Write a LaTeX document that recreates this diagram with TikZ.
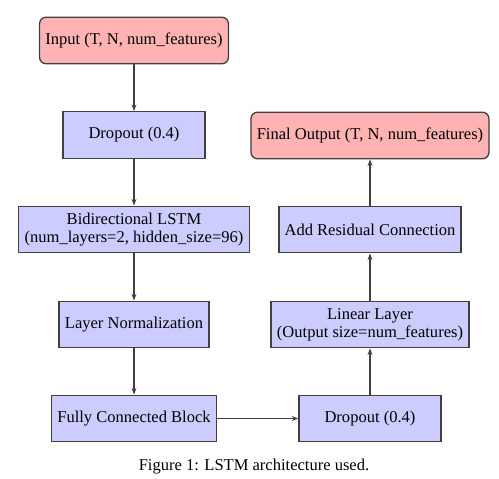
\documentclass[tikz,border=0pt]{standalone}
\usepackage{fontspec}
\setmainfont{Liberation Serif}
\usetikzlibrary{arrows.meta}
\definecolor{boxblue}{RGB}{204,204,255}
\definecolor{boxred}{RGB}{255,179,179}
\begin{document}
\begin{tikzpicture}[x=0.605pt,y=-0.605pt,
  blk/.style={draw=black!75, fill=boxblue, line width=0.8pt, minimum height=28.2pt, inner sep=2pt, align=center, font=\fontsize{10}{11}\selectfont},
  io/.style={blk, fill=boxred, rounded corners=4pt},
  arr/.style={-{Stealth[length=4pt,width=3pt]}, line width=0.8pt, draw=black!75}]
\useasboundingbox (0,0) rectangle (499,479);
\node[io, minimum width=114.3pt] (in) at (134,40.5) {Input (T, N, num\_features)};
\node[blk, minimum width=85.9pt] (d1) at (134,135) {Dropout (0.4)};
\node[blk, minimum width=139.8pt] (lstm) at (134,229.5) {Bidirectional LSTM\\(num\_layers=2, hidden\_size=96)};
\node[blk, minimum width=90.8pt] (ln) at (134,324.5) {Layer Normalization};
\node[blk, minimum width=99.8pt] (fc) at (134,418.5) {Fully Connected Block};
\node[blk, minimum width=85.9pt] (d2) at (370,418.5) {Dropout (0.4)};
\node[blk, minimum width=119.8pt] (lin) at (370,324.5) {Linear Layer\\(Output size=num\_features)};
\node[blk, minimum width=110.1pt] (add) at (370,229.5) {Add Residual Connection};
\node[io, minimum width=144pt] (out) at (370,135.5) {Final Output (T, N, num\_features)};
\draw[arr] (in) -- (d1);
\draw[arr] (d1) -- (lstm);
\draw[arr] (lstm) -- (ln);
\draw[arr] (ln) -- (fc);
\draw[arr] (fc) -- (d2);
\draw[arr] (d2) -- (lin);
\draw[arr] (lin) -- (add);
\draw[arr] (add) -- (out);
\node[font=\fontsize{10}{11}\selectfont] (cap) at (254,467) {Figure 1: LSTM architecture used.};
\end{tikzpicture}
\end{document}
